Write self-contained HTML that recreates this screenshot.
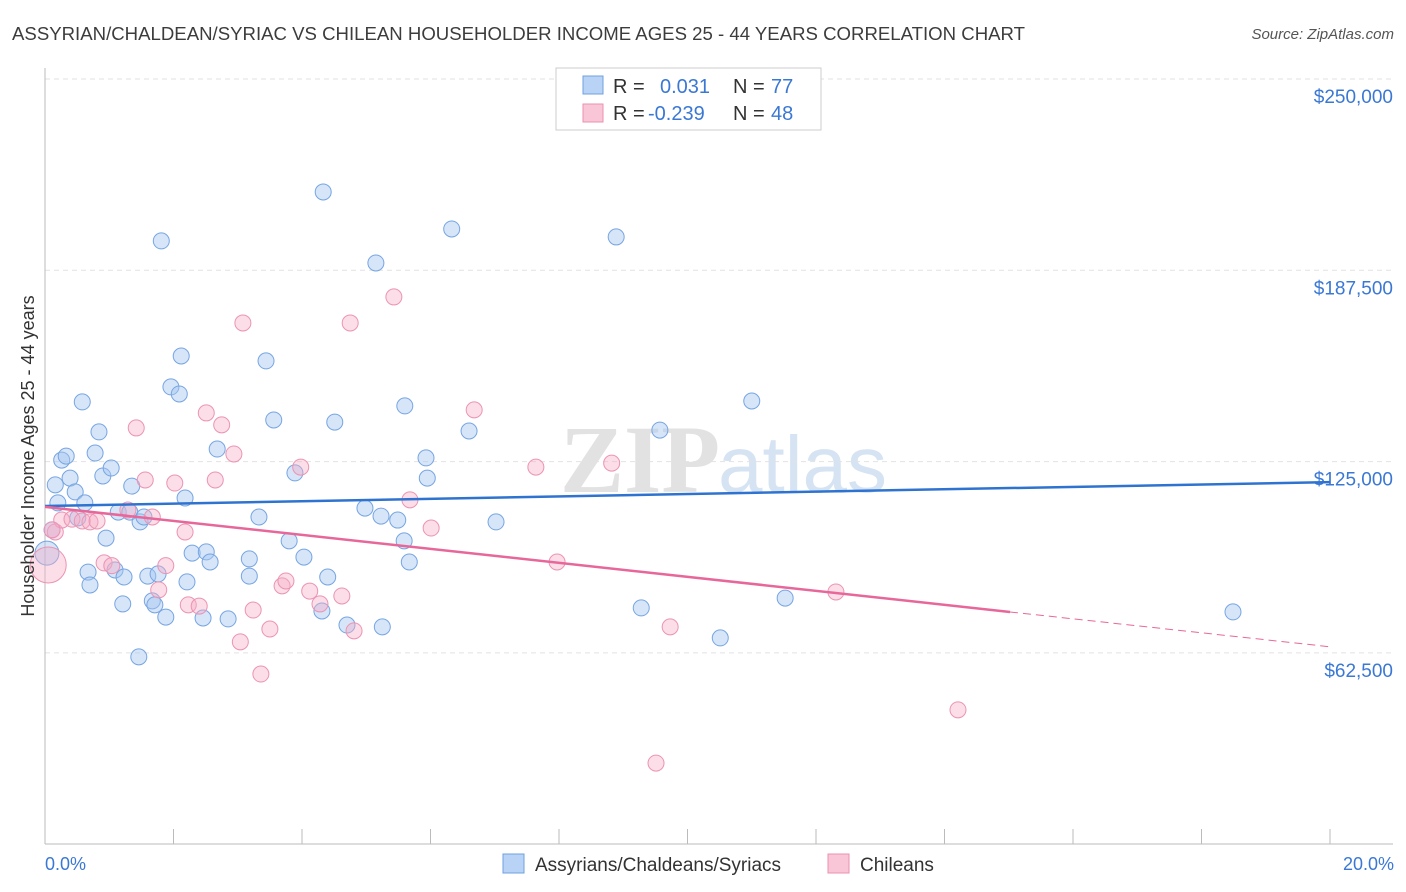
<!DOCTYPE html>
<html><head><meta charset="utf-8">
<style>
body{margin:0;background:#fff;font-family:"Liberation Sans",sans-serif;}
#wrap{position:relative;width:1406px;height:892px;overflow:hidden;}
</style></head>
<body>
<div id="wrap">
<svg id="chart" width="1406" height="892" xmlns="http://www.w3.org/2000/svg">
<text x="12" y="40" font-size="18" fill="#3c3c3c" textLength="1013" lengthAdjust="spacingAndGlyphs">ASSYRIAN/CHALDEAN/SYRIAC VS CHILEAN HOUSEHOLDER INCOME AGES 25 - 44 YEARS CORRELATION CHART</text>
<text x="1394" y="39" font-size="15" fill="#555" text-anchor="end" font-style="italic">Source: ZipAtlas.com</text>
<text x="720" y="492" font-size="96" fill="#e2e2e2" text-anchor="end" font-family="Liberation Serif,serif" font-weight="bold">ZIP</text>
<text x="718" y="492" font-size="80" fill="#d6e3f3" font-family="Liberation Sans,sans-serif">atlas</text>
<g id="grid"></g>
<g id="axes"></g>
<g id="marks"></g>
<text transform="translate(34,456) rotate(-90)" font-size="18" fill="#333" text-anchor="middle">Householder Income Ages 25 - 44 years</text>
<text x="45" y="870" font-size="18" fill="#3a78d4">0.0%</text>
<text x="1394" y="870" font-size="18" fill="#3a78d4" text-anchor="end">20.0%</text>
<g>
<rect x="556" y="68" width="265" height="62" fill="#fff" stroke="#ccc"/>
<rect x="583" y="76" width="20" height="18" fill="#b8d3f5" stroke="#6fa0e0"/>
<rect x="583" y="104" width="20" height="18" fill="#f8c6d6" stroke="#eb90b0"/>
<text x="613" y="93" font-size="20" fill="#333">R =</text>
<text x="660" y="93" font-size="20" fill="#3a78d4">0.031</text>
<text x="733" y="93" font-size="20" fill="#333">N =</text>
<text x="771" y="93" font-size="20" fill="#3a78d4">77</text>
<text x="613" y="120" font-size="20" fill="#333">R =</text>
<text x="648" y="120" font-size="20" fill="#3a78d4">-0.239</text>
<text x="733" y="120" font-size="20" fill="#333">N =</text>
<text x="771" y="120" font-size="20" fill="#3a78d4">48</text>
</g>
<g>
<rect x="503" y="854" width="21" height="19" fill="#b8d3f5" stroke="#6fa0e0"/>
<text x="535" y="871" font-size="19" fill="#333">Assyrians/Chaldeans/Syriacs</text>
<rect x="828" y="854" width="21" height="19" fill="#f8c6d6" stroke="#eb90b0"/>
<text x="860" y="871" font-size="19" fill="#333">Chileans</text>
</g>
</svg>
</div>
<script>
const yTicks=[62500,125000,187500,250000];
const yTickLabels=["$62,500","$125,000","$187,500","$250,000"];
const xTicks=[0,2,4,6,8,10,12,14,16,18,20];
const blueX=[0.03,0.11,0.16,0.20,0.26,0.33,0.39,0.47,0.51,0.58,0.62,0.67,0.70,0.78,0.84,0.90,0.95,1.03,1.09,1.14,1.21,1.23,1.32,1.35,1.48,1.54,1.60,1.67,1.71,1.76,1.81,1.88,1.96,2.09,2.12,2.18,2.21,2.29,2.46,2.51,2.57,2.68,2.85,3.18,3.18,3.33,3.44,3.56,3.80,3.89,4.03,4.31,4.33,4.40,4.51,4.70,4.98,5.15,5.23,5.25,5.49,5.59,5.60,5.67,5.93,5.95,6.33,6.60,7.02,8.89,9.28,9.57,10.51,11.00,11.52,18.49,1.46];
const blueY=[95.1,102.7,117.4,111.5,125.5,126.8,119.6,115.1,106.6,144.5,111.5,88.9,84.7,127.8,134.7,120.3,100,122.9,89.6,108.5,78.5,87.3,108.5,117,105.3,106.9,87.6,79.5,78.2,88.3,197.1,74.2,149.4,147.1,159.5,113.1,85.7,95.1,73.9,95.5,92.2,129.1,73.6,87.6,93.2,106.9,157.9,138.6,99.1,121.3,93.8,76.2,213.1,87.3,137.9,71.6,109.8,189.9,107.2,71,105.9,99.1,143.2,92.2,126.2,119.6,201,135,105.3,198.4,77.2,135.3,67.4,144.8,80.4,75.9,61.2];
const pinkX=[0.05,0.16,0.26,0.42,0.58,0.70,0.81,0.92,1.04,1.29,1.42,1.56,1.67,1.77,1.88,2.02,2.18,2.23,2.40,2.51,2.65,2.75,2.94,3.04,3.08,3.24,3.36,3.50,3.69,3.75,3.98,4.12,4.28,4.62,4.75,4.81,5.43,5.68,6.01,6.68,7.64,7.97,8.82,9.51,9.73,12.31,14.21,0.11];
const pinkY=[91.2,102,105.9,106.2,105.6,105.3,105.6,91.9,91.0,109.2,136,119,106.9,83.1,91.0,118,102,78.2,77.8,140.9,119,137,127.5,66.1,170.3,76.5,55.6,70.3,84.4,86.0,123.2,82.7,78.5,81.1,170.3,69.7,178.8,112.5,103.3,141.9,123.2,92.2,124.5,26.5,71,82.4,43.9,102.7];
const blueTrend=[110.5,118.3];
const pinkTrend=[110.2,64.5];
const pinkSolidEnd=15.02;

const NS="http://www.w3.org/2000/svg";
const X=p=>45+p*64.25;
const Y=v=>79+(250-v)/62.5*191.3;
function mk(t,a,parent){const e=document.createElementNS(NS,t);for(const k in a)e.setAttribute(k,a[k]);document.getElementById(parent).appendChild(e);return e;}

yTicks.forEach((t,i)=>{
 const g=mk('line',{x1:45,x2:1393,y1:Y(t/1000),y2:Y(t/1000),stroke:'#e2e2e2','stroke-dasharray':'5,4'},'grid');
 
 
 const l=mk('text',{x:1393,y:Y(t/1000)+24,'font-size':19,fill:'#3a78d4','text-anchor':'end'},'grid');
 l.textContent=yTickLabels[i];
 
 
});
const ya=mk('line',{x1:45,x2:45,y1:68,y2:844,stroke:'#bbb'},'axes');


const xa=mk('line',{x1:45,x2:1393,y1:844,y2:844,stroke:'#bbb'},'axes');


xTicks.forEach(t=>{
 const k=mk('line',{x1:X(t),x2:X(t),y1:829,y2:844,stroke:'#bbb'},'axes');
 
 
});

blueX.forEach((x,i)=>{
 const c=mk('circle',{cx:X(x),cy:Y(blueY[i]),r:i===0?12:8,fill:'rgba(165,198,240,0.45)',stroke:'#76a5e2','stroke-width':1},'marks');
 
 
});
pinkX.forEach((x,i)=>{
 const c=mk('circle',{cx:X(x),cy:Y(pinkY[i]),r:i===0?18:8,fill:'rgba(245,172,198,0.4)',stroke:'#ec93b3','stroke-width':1},'marks');
 
 
});
const bt=mk('line',{x1:X(0),y1:Y(blueTrend[0]),x2:X(20),y2:Y(blueTrend[1]),stroke:'#2f73d0','stroke-width':2.5},'marks');


const pm=pinkTrend[0]+(pinkTrend[1]-pinkTrend[0])*pinkSolidEnd/20;
const pt=mk('line',{x1:X(0),y1:Y(pinkTrend[0]),x2:X(pinkSolidEnd),y2:Y(pm),stroke:'#e8679a','stroke-width':2.5},'marks');


const pd=mk('line',{x1:X(pinkSolidEnd),y1:Y(pm),x2:X(20),y2:Y(pinkTrend[1]),stroke:'#e8679a','stroke-width':1,'stroke-dasharray':'8,5'},'marks');


</script>
</body></html>
